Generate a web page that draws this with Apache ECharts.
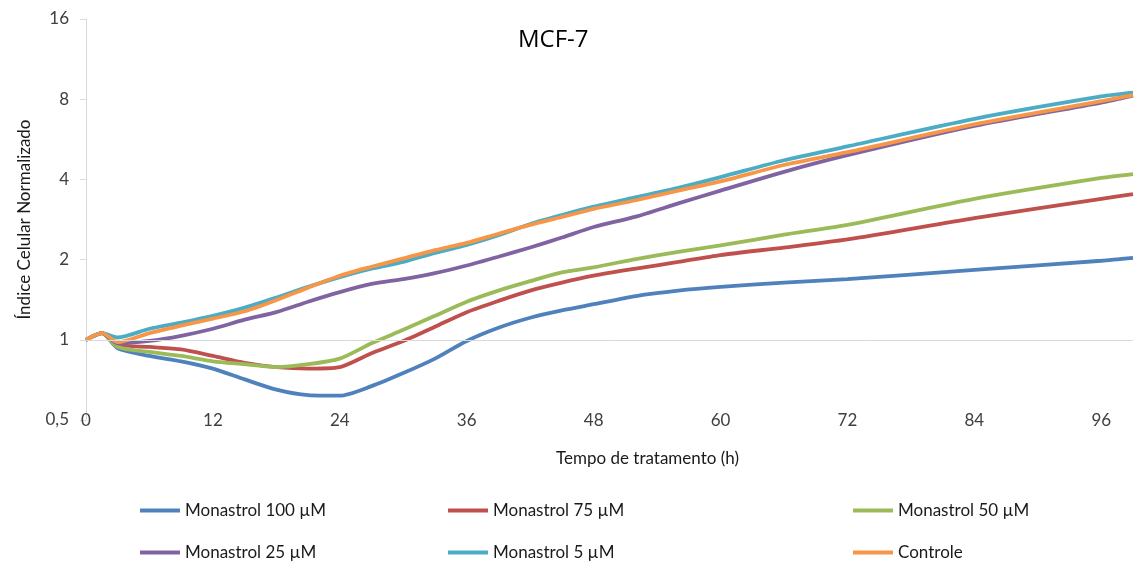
<!DOCTYPE html>
<html>
<head>
<meta charset="utf-8">
<script src="https://cdn.jsdelivr.net/npm/echarts@6/dist/echarts.min.js"></script>
<style>
  html, body { margin: 0; padding: 0; background: #fff; }
  #main { width: 1135px; height: 564px; }
</style>
</head>
<body>
<div id="main"></div>
<script>
// tempo de tratamento (h)
var hours = [0, 1.5, 3, 6, 9, 12, 15, 18, 21, 24, 27, 30, 33, 36, 39, 42, 45, 48, 52, 56, 60, 66, 72, 84, 96, 99];

// índice celular normalizado
var mon100   = [1, 1.06, 0.93, 0.87, 0.83, 0.78, 0.71, 0.65, 0.62, 0.617, 0.67, 0.75, 0.85, 0.99, 1.11, 1.21, 1.29, 1.36, 1.46, 1.53, 1.58, 1.64, 1.69, 1.83, 1.98, 2.03];
var mon75    = [1, 1.06, 0.96, 0.94, 0.92, 0.87, 0.82, 0.79, 0.78, 0.79, 0.89, 0.99, 1.12, 1.27, 1.40, 1.53, 1.64, 1.74, 1.85, 1.96, 2.08, 2.22, 2.38, 2.86, 3.38, 3.52];
var mon50    = [1, 1.06, 0.94, 0.90, 0.87, 0.83, 0.81, 0.79, 0.81, 0.85, 0.97, 1.09, 1.23, 1.39, 1.53, 1.66, 1.79, 1.87, 2.01, 2.14, 2.26, 2.48, 2.70, 3.38, 4.05, 4.19];
var mon25    = [1, 1.06, 0.97, 0.99, 1.035, 1.10, 1.19, 1.27, 1.39, 1.51, 1.62, 1.69, 1.78, 1.90, 2.05, 2.22, 2.42, 2.65, 2.90, 3.25, 3.63, 4.27, 4.93, 6.35, 7.77, 8.25];
var mon5     = [1, 1.06, 1.02, 1.10, 1.16, 1.23, 1.32, 1.44, 1.58, 1.72, 1.85, 1.96, 2.12, 2.27, 2.47, 2.72, 2.94, 3.16, 3.43, 3.72, 4.08, 4.72, 5.32, 6.75, 8.19, 8.46];
var controle = [1, 1.06, 0.98, 1.06, 1.13, 1.20, 1.28, 1.41, 1.57, 1.74, 1.88, 2.02, 2.17, 2.31, 2.50, 2.70, 2.89, 3.10, 3.34, 3.63, 3.93, 4.53, 5.06, 6.43, 7.86, 8.28];

var names = ['Monastrol 100 µM', 'Monastrol 75 µM', 'Monastrol 50 µM', 'Monastrol 25 µM', 'Monastrol 5 µM', 'Controle'];
var colors = ['#4F81BD', '#C0504D', '#9BBB59', '#8064A2', '#4BACC6', '#F79646'];
var values = [mon100, mon75, mon50, mon25, mon5, controle];

var FONT = 'Lato';

function pairs(v) {
  return hours.map(function (h, i) { return [h, v[i]]; });
}

var myChart = echarts.init(document.getElementById('main'));

// posição das legendas (2 linhas x 3 colunas)
var legendLeft = [135, 443, 848, 135, 443, 848];
var legendTop = [497, 497, 497, 539, 539, 539];

var legends = names.map(function (n, i) {
  return {
    data: [n],
    left: legendLeft[i],
    top: legendTop[i],
    icon: 'rect',
    itemWidth: 40,
    itemHeight: 4,
    textStyle: { fontFamily: FONT, fontSize: 17, color: '#1a1a1a' }
  };
});

var series = names.map(function (n, i) {
  return {
    name: n,
    type: 'line',
    data: pairs(values[i]),
    smooth: 0.25,
    showSymbol: false,
    symbol: 'none',
    z: 3,
    lineStyle: { color: colors[i], width: 3.8 },
    itemStyle: { color: colors[i] }
  };
});

// linha horizontal em 1 (eixo horizontal do Excel)
series.unshift({
  type: 'line',
  data: [],
  silent: true,
  z: 1,
  markLine: {
    silent: true,
    symbol: 'none',
    label: { show: false },
    lineStyle: { color: '#d9d9d9', width: 1, type: 'solid' },
    data: [{ yAxis: 1 }]
  }
});

myChart.setOption({
  animation: false,
  backgroundColor: '#fff',
  title: {
    text: 'MCF-7',
    left: 513,
    top: 23,
    textStyle: { fontFamily: 'Open Sans', fontSize: 24, fontWeight: 'normal', color: '#000' }
  },
  legend: legends,
  grid: { left: 86, right: 2, top: 19, bottom: 144, containLabel: false },
  xAxis: {
    type: 'value',
    min: 0,
    max: 99,
    interval: 12,
    name: 'Tempo de tratamento (h)',
    nameLocation: 'middle',
    nameGap: 30,
    nameTextStyle: { fontFamily: FONT, fontSize: 17, color: '#1a1a1a', padding: [0, 0, 0, 76] },
    axisLine: { show: false },
    axisTick: { show: false },
    splitLine: { show: false },
    axisLabel: {
      margin: -8,
      fontFamily: FONT,
      fontSize: 17,
      color: '#404040',
      showMaxLabel: false,
      formatter: function (v) { return v <= 96 ? String(v) : ''; }
    }
  },
  yAxis: {
    type: 'log',
    logBase: 2,
    min: 0.5,
    max: 16,
    name: 'Índice Celular Normalizado',
    nameLocation: 'middle',
    nameGap: 53,
    nameTextStyle: { fontFamily: FONT, fontSize: 17, color: '#1a1a1a' },
    axisLine: { show: true, lineStyle: { color: '#d9d9d9', width: 1 } },
    axisTick: { show: true, length: 6, lineStyle: { color: '#d9d9d9' } },
    splitLine: { show: false },
    axisLabel: {
      margin: 17,
      fontFamily: FONT,
      fontSize: 17,
      color: '#404040',
      formatter: function (v) { return String(v).replace('.', ','); }
    }
  },
  series: series
});

window.addEventListener('resize', function () {
  myChart.resize();
});
</script>
</body>
</html>
